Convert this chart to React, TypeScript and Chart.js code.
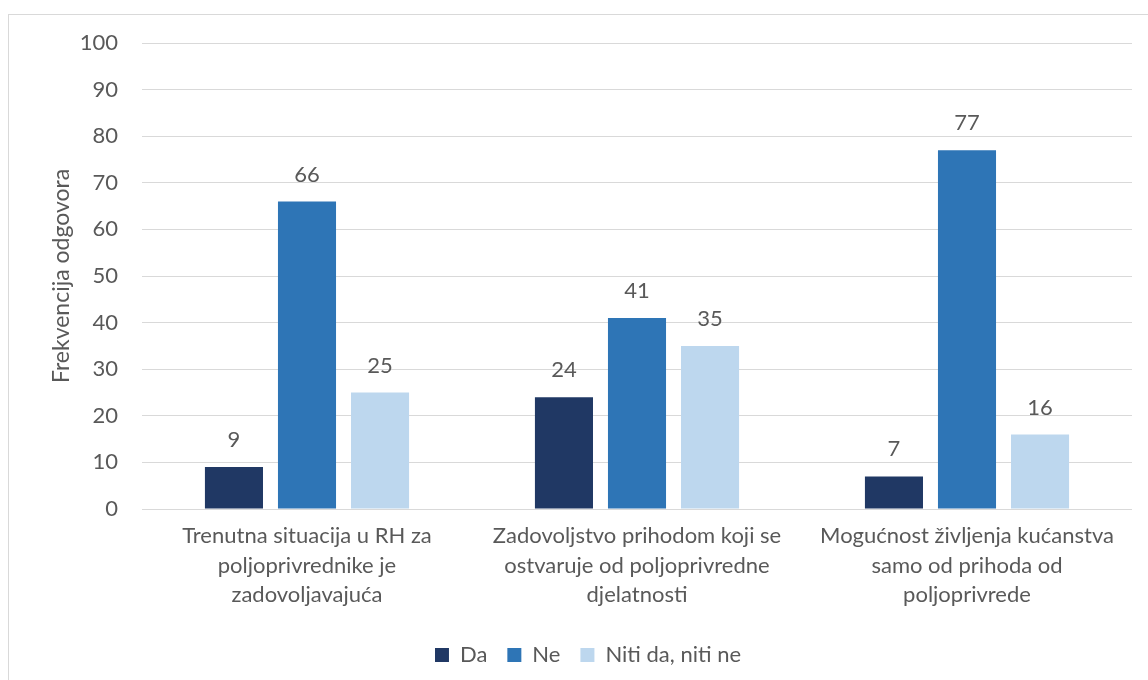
import React, { useEffect, useRef } from "react";
import { Chart, registerables } from "chart.js";

Chart.register(...registerables);

const categories: string[][] = [
  ["Trenutna situacija u RH za", "poljoprivrednike je", "zadovoljavajuća"],
  ["Zadovoljstvo prihodom koji se", "ostvaruje od poljoprivredne", "djelatnosti"],
  ["Mogućnost življenja kućanstva", "samo od prihoda od", "poljoprivrede"],
];
const seriesNames = ["Da", "Ne", "Niti da, niti ne"];
const daValues = [9, 24, 7];
const neValues = [66, 41, 77];
const nitiValues = [25, 35, 16];
const seriesColors = ["#203864", "#2E75B6", "#BDD7EE"];
const yAxisTitle = "Frekvencija odgovora";
const yMin = 0;
const yMax = 100;
const yStep = 10;

const FONT = "Lato";
const TEXT = "#595959";
const FS = 22;

const valueLabels = {
  id: "valueLabels",
  afterDatasetsDraw(chart: any) {
    const ctx = chart.ctx;
    ctx.save();
    ctx.fillStyle = TEXT;
    ctx.font = `${FS}px ${FONT}`;
    ctx.textAlign = "center";
    ctx.textBaseline = "middle";
    chart.data.datasets.forEach((ds: any, i: number) => {
      const meta = chart.getDatasetMeta(i);
      meta.data.forEach((bar: any, j: number) => {
        ctx.fillText(String(ds.data[j]), bar.x, bar.y - 27);
      });
    });
    ctx.restore();
  },
};

export default function App() {
  const ref = useRef<HTMLCanvasElement>(null);
  useEffect(() => {
    if (!ref.current) return;
    const data = [daValues, neValues, nitiValues];
    const chart = new Chart(ref.current, {
      type: "bar",
      data: {
        labels: categories,
        datasets: seriesNames.map((name, i) => ({
          label: name,
          data: data[i],
          backgroundColor: seriesColors[i],
          borderWidth: 0,
          categoryPercentage: 0.664,
          barPercentage: 0.795,
        })),
      },
      options: {
        responsive: false,
        animation: false,
        layout: { padding: { top: 43, right: 16, left: 44, bottom: 4 } },
        plugins: {
          legend: {
            position: "bottom",
            labels: {
              boxWidth: 14,
              boxHeight: 14,
              padding: 20,
              color: TEXT,
              font: { family: FONT, size: FS },
            },
          },
          tooltip: { enabled: false },
        },
        scales: {
          x: {
            grid: { display: false },
            border: { display: false },
            ticks: {
              color: TEXT,
              font: { family: FONT, size: FS, lineHeight: 1.35 },
              maxRotation: 0,
              padding: 4,
            },
            afterFit(scale: any) {
              scale.height = 115;
            },
          },
          y: {
            min: yMin,
            max: yMax,
            ticks: {
              stepSize: yStep,
              color: TEXT,
              font: { family: FONT, size: FS },
              padding: 24,
            },
            grid: { color: "#D9D9D9", lineWidth: 1, drawTicks: false },
            border: { display: false },
            title: {
              display: true,
              text: yAxisTitle,
              color: TEXT,
              font: { family: FONT, size: 23 },
              padding: { top: 4, bottom: 0 },
            },
            afterFit(scale: any) {
              scale.width = 98;
            },
          },
        },
      },
      plugins: [valueLabels],
    });
    return () => chart.destroy();
  }, []);

  return (
    <div
      style={{
        position: "fixed",
        left: 0,
        top: 0,
        width: 1148,
        height: 680,
        overflow: "hidden",
        background: "#fff",
      }}
    >
      <div
        style={{
          position: "absolute",
          left: 8,
          top: 14,
          width: 1200,
          height: 700,
          border: "1px solid #D9D9D9",
          boxSizing: "border-box",
        }}
      />
      <canvas
        ref={ref}
        width={1148}
        height={680}
        style={{ position: "absolute", left: 0, top: 0, width: 1148, height: 680 }}
      />
    </div>
  );
}
